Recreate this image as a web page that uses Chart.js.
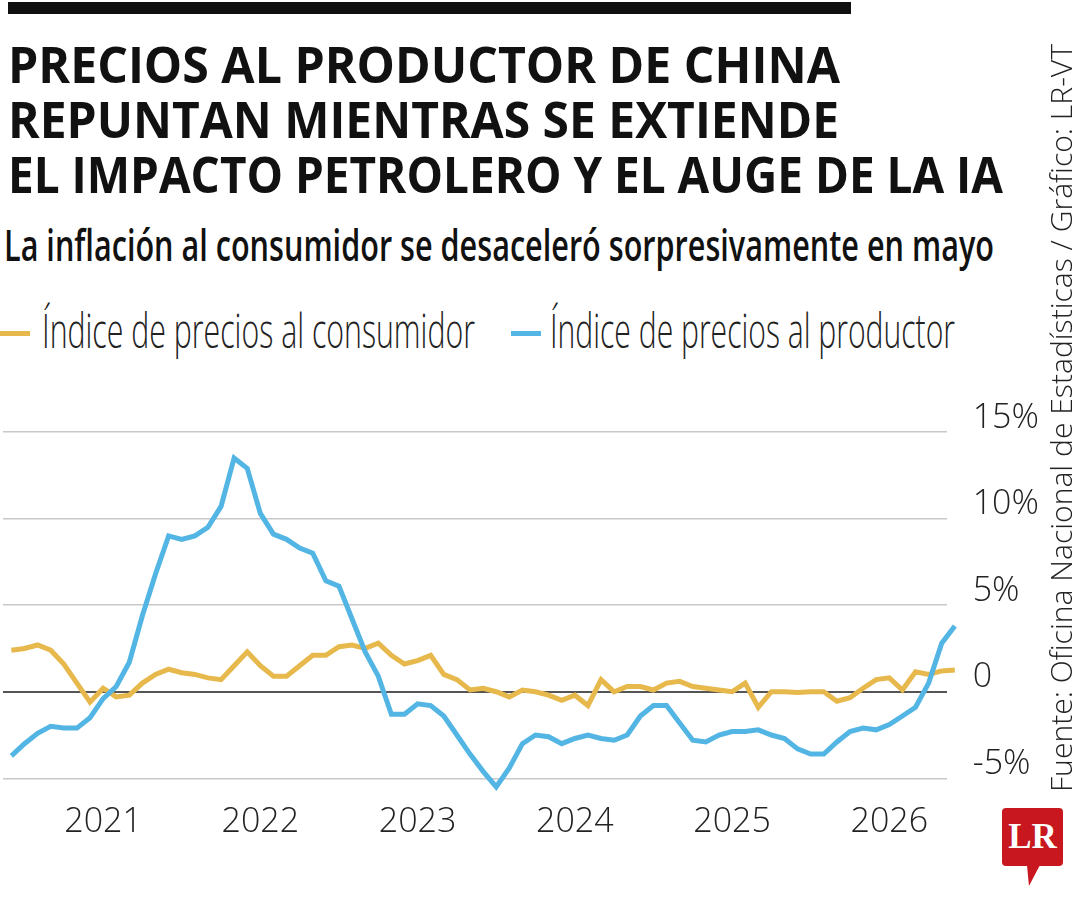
<!DOCTYPE html>
<html lang="es">
<head>
<meta charset="utf-8">
<script src="https://cdn.jsdelivr.net/npm/chart.js@4.4.1/dist/chart.umd.min.js"></script>
<style>
  html, body { margin: 0; padding: 0; background: #fff; }
  body { width: 1080px; height: 900px; position: relative; overflow: hidden; color: #111; }
  #grafico { position: absolute; left: 0; top: 0; }
  .txt { position: absolute; white-space: nowrap; transform-origin: left top; font-family: 'Open Sans', sans-serif; }
  .titulo { font-size: 51px; font-weight: 700; color: #111; }
  #sub { font-size: 44px; font-weight: 600; color: #111; }
  .ley { font-size: 47px; font-weight: 300; color: #222; }
  #fuente { font-size: 30px; font-weight: 300; color: #222; }
  #barra { position: absolute; left: 8px; top: 2px; width: 843px; height: 12px; background: #111; }
  .guion { position: absolute; top: 331px; width: 30px; height: 5px; }
  #logo { position: absolute; left: 1002px; top: 808px; width: 61px; height: 58px; background: #c8171e; border-radius: 4px;
          color: #fff; font: bold 35px 'Liberation Serif', 'DejaVu Serif', serif; text-align: center; line-height: 58px; }
  #cola { position: absolute; left: 1027px; top: 865px; width: 13px; height: 21px; background: #c8171e;
          clip-path: polygon(0 0, 100% 0, 15% 100%); }
</style>
</head>
<body>
<div id="barra"></div>
<div class="txt titulo" id="t1">PRECIOS AL PRODUCTOR DE CHINA</div>
<div class="txt titulo" id="t2">REPUNTAN MIENTRAS SE EXTIENDE</div>
<div class="txt titulo" id="t3">EL IMPACTO PETROLERO Y EL AUGE DE LA IA</div>
<div class="txt" id="sub">La inflación al consumidor se desaceleró sorpresivamente en mayo</div>
<div class="guion" style="left:0; background:#e7b84c"></div>
<div class="txt ley" id="l1">Índice de precios al consumidor</div>
<div class="guion" style="left:511px; background:#52b5e3"></div>
<div class="txt ley" id="l2">Índice de precios al productor</div>
<canvas id="grafico" width="1080" height="900"></canvas>
<div class="txt" id="fuente">Fuente: Oficina Nacional de Estadísticas / Gráfico: LR-VT</div>
<div id="logo">LR</div>
<div id="cola"></div>
<script>
// meses: mayo 2020 a mayo 2026
const meses = [];
for (let a = 2020; a <= 2026; a++) {
    for (let m = 1; m <= 12; m++) {
        if ((a === 2020 && m < 5) || (a === 2026 && m > 5)) continue;
        meses.push(a + '-' + String(m).padStart(2, '0'));
    }
}

// variación anual (%)
const ipc = [2.4, 2.5, 2.7, 2.4, 1.6, 0.5, -0.6, 0.2, -0.3, -0.2,
    0.5, 1.0, 1.3, 1.1, 1.0, 0.8, 0.7, 1.5, 2.3, 1.5,
    0.9, 0.9, 1.5, 2.1, 2.1, 2.6, 2.7, 2.5, 2.8, 2.1,
    1.6, 1.8, 2.1, 1.0, 0.7, 0.1, 0.2, 0.0, -0.3, 0.1,
    0.0, -0.2, -0.5, -0.2, -0.8, 0.7, 0.0, 0.3, 0.3, 0.1,
    0.5, 0.6, 0.3, 0.2, 0.1, 0.0, 0.5, -0.9, 0.0, 0.0,
    -0.05, 0.0, 0.0, -0.55, -0.35, 0.2, 0.7, 0.8, 0.1, 1.15,
    1.0, 1.2, 1.25];

const ipp = [-3.7, -3.0, -2.4, -2.0, -2.1, -2.1, -1.5, -0.4, 0.3, 1.7,
    4.4, 6.8, 9.0, 8.8, 9.0, 9.5, 10.7, 13.5, 12.9, 10.3,
    9.1, 8.8, 8.3, 8.0, 6.4, 6.1, 4.2, 2.3, 0.9, -1.3,
    -1.3, -0.7, -0.8, -1.4, -2.5, -3.6, -4.6, -5.5, -4.4, -3.0,
    -2.5, -2.6, -3.0, -2.7, -2.5, -2.7, -2.8, -2.5, -1.4, -0.8,
    -0.8, -1.8, -2.8, -2.9, -2.5, -2.3, -2.3, -2.2, -2.5, -2.7,
    -3.3, -3.6, -3.6, -2.9, -2.3, -2.1, -2.2, -1.9, -1.4, -0.9,
    0.5, 2.8, 3.8];

// etiquetas del eje x (centradas en diciembre del año anterior, como en el original)
const anios = ['2021', '2022', '2023', '2024', '2025', '2026'];
const ticksY = [-5, 0, 5, 10, 15];

const fuenteEje = "'Open Sans', sans-serif";

const posAnios = anios.map(a => meses.indexOf((+a - 1) + '-12'));

const config = {
    type: 'line',
    data: {
        datasets: [{
            label: 'Índice de precios al productor',
            data: ipp.map((v, i) => ({ x: i, y: v })),
            borderColor: '#52b5e3',
            borderWidth: 5,
            pointRadius: 0,
            tension: 0,
            clip: false,
            order: 1
        }, {
            label: 'Índice de precios al consumidor',
            data: ipc.map((v, i) => ({ x: i, y: v })),
            borderColor: '#e7b84c',
            borderWidth: 5,
            pointRadius: 0,
            tension: 0,
            clip: false,
            order: 2
        }]
    },
    options: {
        responsive: false,
        animation: false,
        devicePixelRatio: 1,
        layout: { padding: { left: 3, top: 432, right: 0, bottom: 0 } },
        plugins: { legend: { display: false }, tooltip: { enabled: false } },
        scales: {
            x: {
                type: 'linear',
                min: -0.64,
                max: 71.38,
                grid: { display: false, drawTicks: false },
                border: { display: false },
                afterBuildTicks: s => { s.ticks = posAnios.map(v => ({ value: v })); },
                afterFit: s => { s.height = 121.7; },
                ticks: {
                    autoSkip: false,
                    maxRotation: 0,
                    padding: 24,
                    color: '#222',
                    font: { size: 34, weight: '300', family: fuenteEje },
                    callback: v => anios[posAnios.indexOf(v)]
                }
            },
            y: {
                position: 'right',
                min: -5,
                max: 15,
                afterBuildTicks: s => { s.ticks = ticksY.map(v => ({ value: v })); },
                afterFit: s => { s.width = 133.3; },
                grid: {
                    drawTicks: false,
                    color: c => c.tick.value === 0 ? '#555' : '#c8c8c8',
                    lineWidth: c => c.tick.value === 0 ? 2 : 1.5
                },
                border: { display: false },
                ticks: {
                    padding: 26,
                    labelOffset: -14,
                    color: '#222',
                    font: { size: 34, weight: '300', family: fuenteEje },
                    callback: v => v === 0 ? '0' : v + '%'
                }
            }
        }
    }
};

new Chart(document.getElementById('grafico'), config);

// textos: posición por línea base y ancho ajustado
function colocar(id, x, base, ancho) {
    const el = document.getElementById(id);
    const cs = getComputedStyle(el);
    const fs = parseFloat(cs.fontSize);
    const c = document.createElement('canvas').getContext('2d');
    c.font = cs.fontWeight + ' ' + cs.fontSize + ' ' + cs.fontFamily;
    const m = c.measureText(el.textContent);
    el.style.lineHeight = fs + 'px';
    const off = (fs - (m.fontBoundingBoxAscent + m.fontBoundingBoxDescent)) / 2 + m.fontBoundingBoxAscent;
    const nat = el.getBoundingClientRect().width;
    el.style.left = x + 'px';
    el.style.top = (base - off) + 'px';
    el.style.transform = 'scaleX(' + (ancho / nat) + ')';
    return off;
}

colocar('t1', 8, 83.5, 832);
colocar('t2', 8, 138.5, 831);
colocar('t3', 8, 193.5, 995);
colocar('sub', 4, 261, 990);
colocar('l1', 42, 348, 433);
colocar('l2', 550, 348, 405);

// fuente vertical
const fu = document.getElementById('fuente');
const offF = colocar('fuente', 0, 0, 748);
const escF = fu.style.transform;
fu.style.left = (1072 - offF) + 'px';
fu.style.top = '792px';
fu.style.transform = 'rotate(-90deg) ' + escF;
</script>
</body>
</html>
